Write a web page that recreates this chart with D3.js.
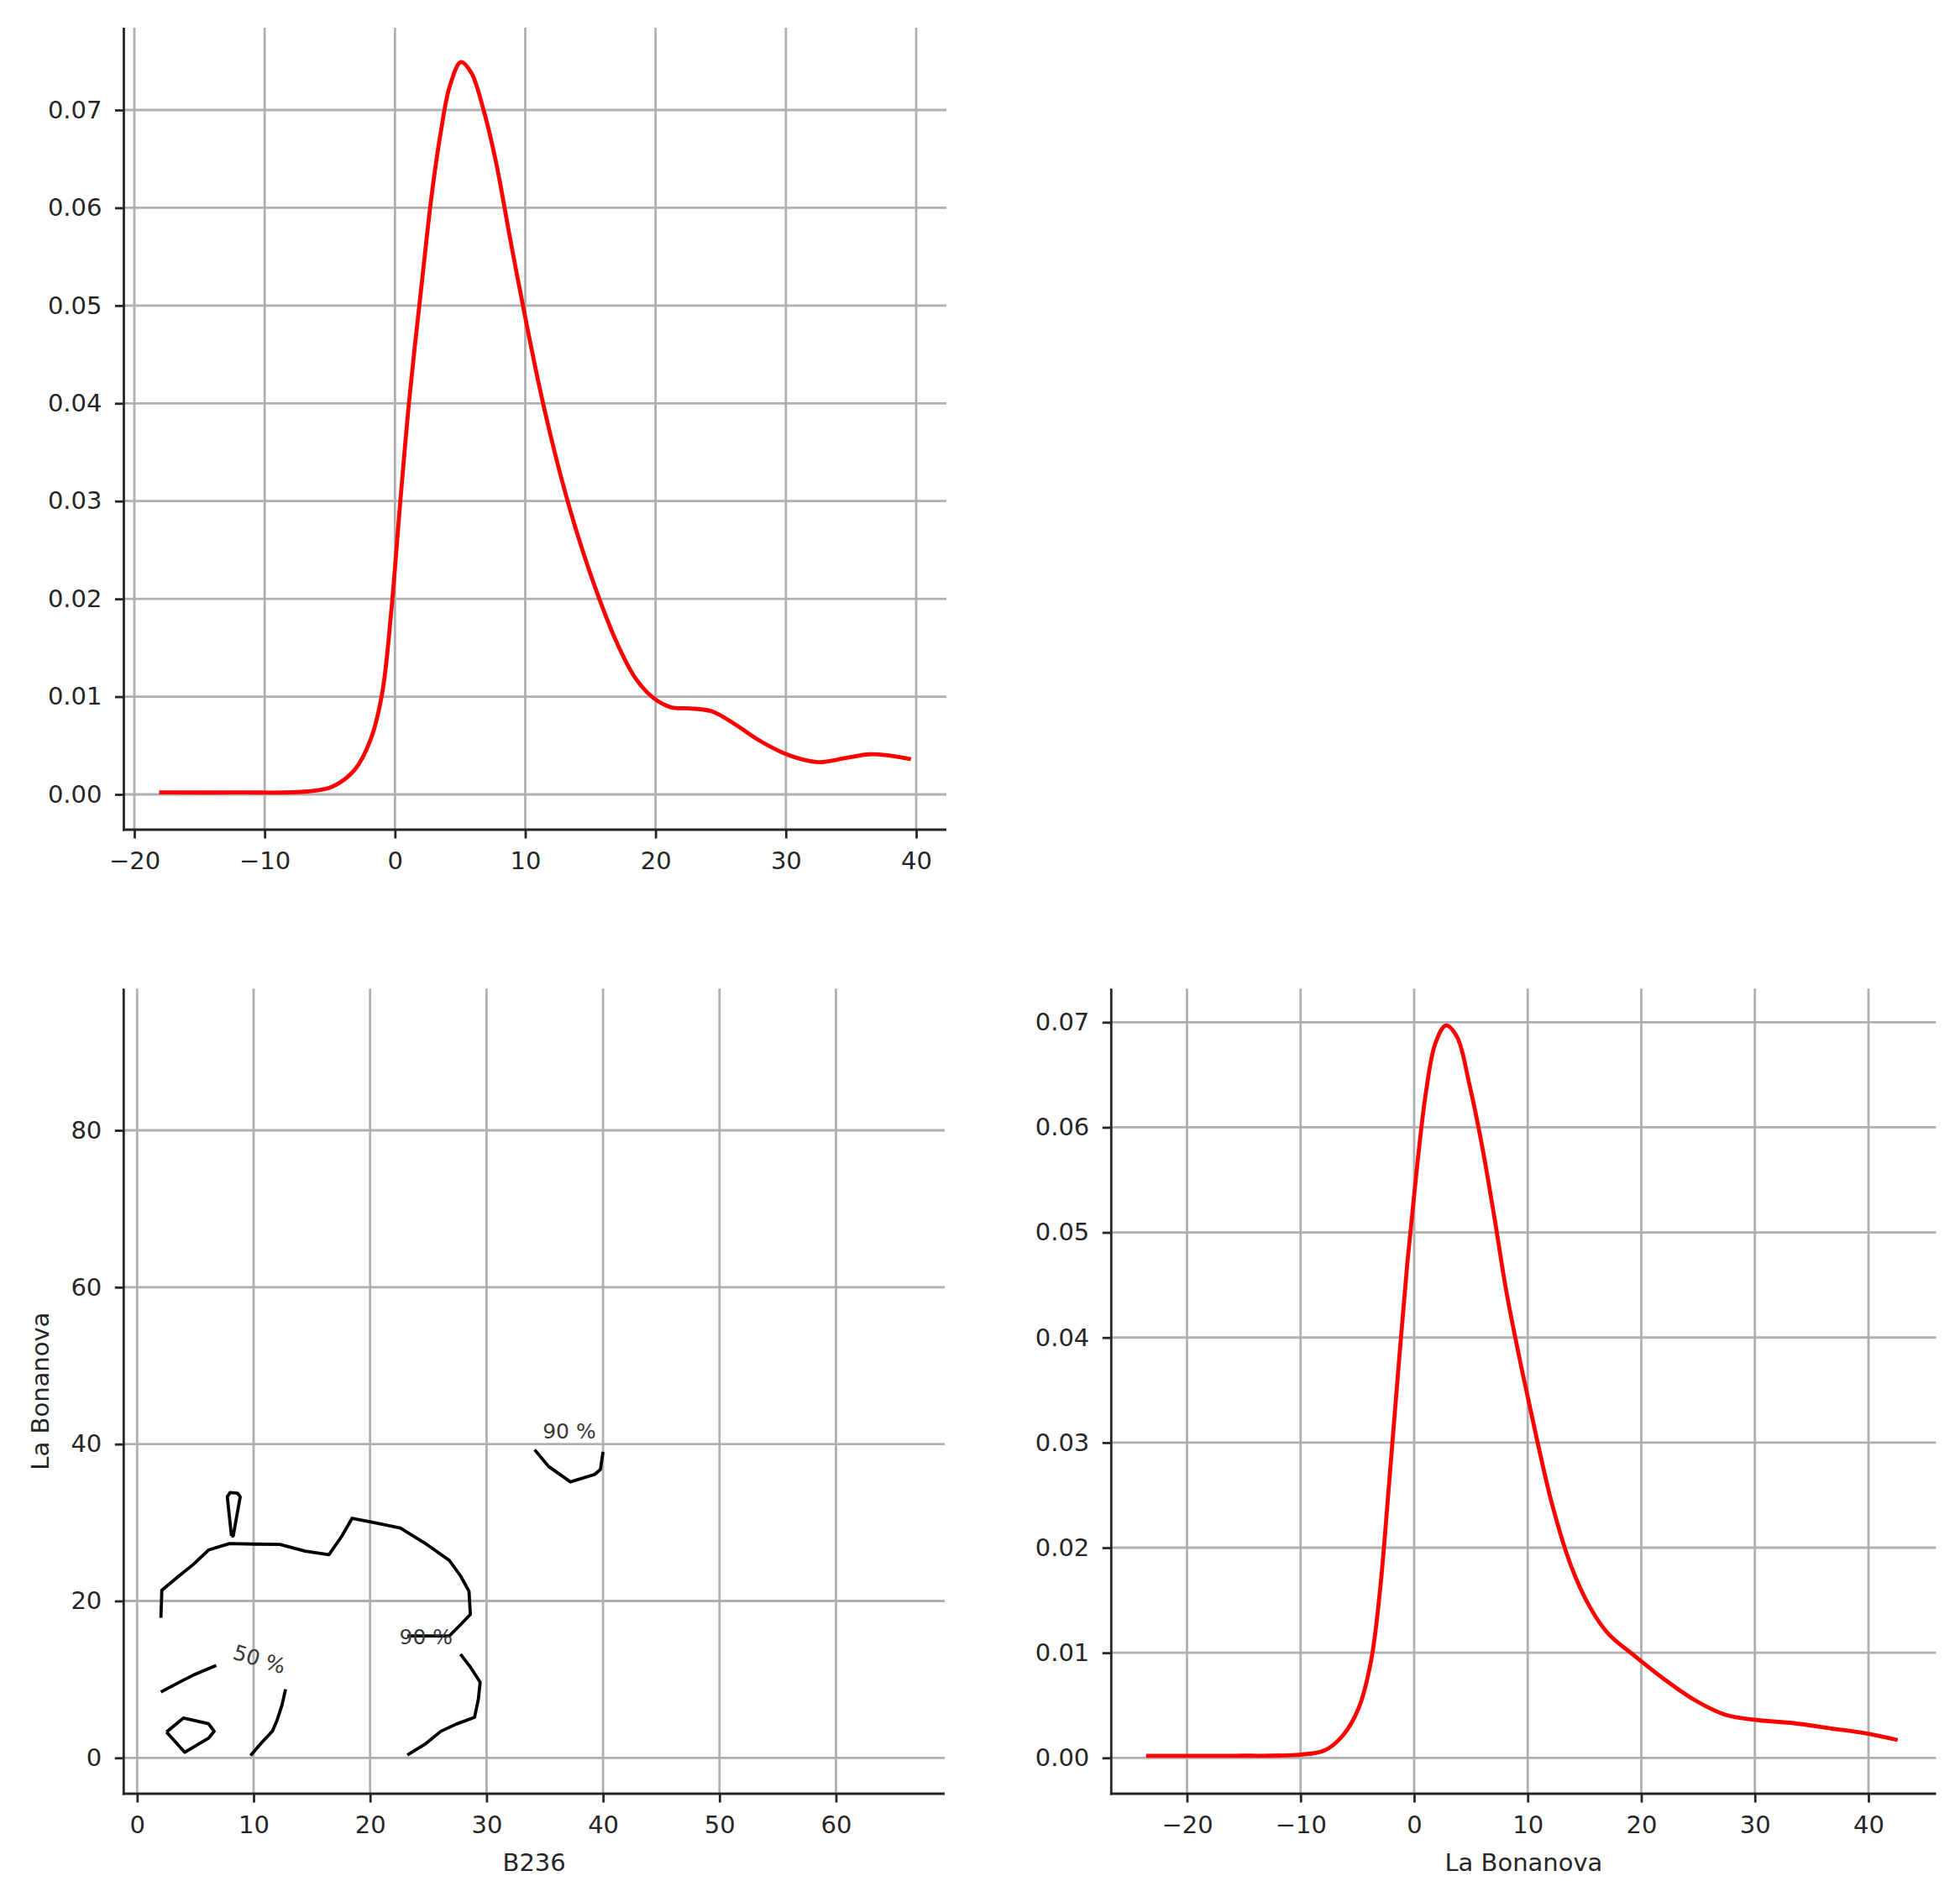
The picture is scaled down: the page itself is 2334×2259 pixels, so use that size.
<!DOCTYPE html>
<html><head><meta charset="utf-8">
<script src="https://cdn.jsdelivr.net/npm/d3@7"></script>
<style>html,body{margin:0;padding:0;background:#fff}</style>
</head><body>
<svg id="chart" width="2334" height="2259"></svg>
<script>
// ---- Data ----
// KDE of B236 (top-left)
const kdeB236X = [-18.1,-12,-6.7,-4.8,-3.1,-1.9,-1.0,-0.3,0.4,1.1,2.1,2.8,3.5,4.2,5.06,5.86,6.8,7.75,8.9,10.1,11.3,12.7,14.1,15.6,17.0,18.4,19.8,21.2,22.6,24.3,25.95,27.85,29.7,31.2,32.6,34.5,36.4,37.8,39.6];
const kdeB236Y = [0.0002,0.0002,0.0003,0.0008,0.0025,0.0055,0.0102,0.0185,0.0298,0.0404,0.0528,0.0611,0.0676,0.0724,0.0749,0.0738,0.0700,0.0647,0.0564,0.0481,0.0404,0.0327,0.0262,0.0203,0.0156,0.0120,0.0099,0.0089,0.0088,0.0085,0.0073,0.0056,0.0043,0.0036,0.0033,0.0037,0.0041,0.0040,0.0036];
// KDE of La Bonanova (bottom-right)
const kdeBonX = [-23.6,-16,-10.1,-7.9,-6.3,-4.9,-3.8,-3.0,-2.2,-1.4,-0.6,0.24,1.06,1.87,2.8,3.78,4.86,5.95,7.04,8.13,9.49,10.85,12.2,13.8,15.5,17.1,19.3,22.0,24.7,27.4,30.2,33.4,36.7,39.96,42.57];
const kdeBonY = [0.0002,0.0002,0.0003,0.0007,0.0021,0.0047,0.0092,0.0160,0.0262,0.0369,0.0471,0.0561,0.0635,0.0680,0.0697,0.0686,0.0641,0.0584,0.0516,0.0443,0.0369,0.0301,0.0239,0.0183,0.0143,0.0118,0.0098,0.0075,0.0055,0.0041,0.0036,0.0033,0.0028,0.0023,0.0017];

// Contour lines (B236, La Bonanova)
const contour90Main = [[2.04,17.86],[2.12,21.36],[3.61,23.21],[4.81,24.64],[6.13,26.5],[7.93,27.32],[10.10,27.25],[12.26,27.21],[14.42,26.36],[16.47,25.89],[17.55,28.21],[18.46,30.54],[20.07,30.07],[22.6,29.29],[24.76,27.32],[26.8,25.18],[27.76,23.21],[28.49,21.25],[28.61,18.29],[27.64,16.79],[26.8,15.54],[23.2,15.54]];
const contour90Lower = [[27.76,13.21],[28.6,11.6],[29.45,9.64],[29.3,7.5],[28.97,5.18],[27.4,4.3],[26.08,3.39],[24.76,1.79],[23.2,0.36]];
const contour90Upper = [[34.13,39.28],[35.33,37.14],[37.2,35.18],[39.29,36.14],[39.78,36.78],[40.0,39.0]];
const contour90Pin = [[8.10,28.29],[7.74,33.29],[7.98,33.82],[8.61,33.75],[8.85,33.29],[8.25,28.29],[8.10,28.29]];
const contour50Left = [[2.04,8.39],[3.85,9.82],[4.81,10.54],[6.80,11.79]];
const contour50Right = [[12.74,8.75],[12.45,6.79],[12.02,4.82],[11.61,3.39],[10.70,1.96],[9.74,0.29]];
const contour50Loop = [[2.52,3.29],[3.97,5.07],[6.13,4.36],[6.61,3.39],[6.13,2.5],[4.09,0.71],[2.52,3.29]];
const contourLabelText = ["50 %","90 %","90 %"];
const contourLabelPos = [[10.5,12.6],[24.8,15.4],[37.1,41.7]];
const contourLabelAngle = [17,0,0];

// Ticks
const densityTicks = [0,0.01,0.02,0.03,0.04,0.05,0.06,0.07];
const kdeXTicks = [-20,-10,0,10,20,30,40];
const scatterXTicks = [0,10,20,30,40,50,60];
const scatterYTicks = [0,20,40,60,80];
const xLabelB236 = "B236";
const labelBonanova = "La Bonanova";

// ---- Drawing ----
const svg = d3.select("#chart");
svg.append("rect").attr("width",2334).attr("height",2259).attr("fill","#fff");
const FONT = "DejaVu Sans";
const TXT = "#262626";
const GRID = "#b0b0b0";

function panel(box, x, y, xt, yt, yfmt){
  const g = svg.append("g");
  g.append("g").selectAll("line").data(xt).join("line")
    .attr("x1",d=>x(d)).attr("x2",d=>x(d)).attr("y1",box.top).attr("y2",box.bottom)
    .attr("stroke",GRID).attr("stroke-width",2.8);
  g.append("g").selectAll("line").data(yt).join("line")
    .attr("y1",d=>y(d)).attr("y2",d=>y(d)).attr("x1",box.left).attr("x2",box.right)
    .attr("stroke",GRID).attr("stroke-width",2.8);
  const ax = g.append("g").attr("transform",`translate(0,${box.bottom})`)
    .call(d3.axisBottom(x).tickValues(xt).tickSize(10.5).tickPadding(16));
  const ay = g.append("g").attr("transform",`translate(${box.left},0)`)
    .call(d3.axisLeft(y).tickValues(yt).tickFormat(yfmt).tickSize(10.5).tickPadding(15.5));
  [ax,ay].forEach(a=>{
    a.select(".domain").remove();
    a.attr("font-family",FONT).attr("font-size",29);
    a.selectAll(".tick line").attr("stroke",TXT).attr("stroke-width",2.8);
    a.selectAll(".tick text").attr("fill",TXT);
  });
  g.append("line").attr("x1",box.left).attr("x2",box.left).attr("y1",box.top).attr("y2",box.bottom+1.4)
    .attr("stroke",TXT).attr("stroke-width",2.8);
  g.append("line").attr("x1",box.left-1.4).attr("x2",box.right).attr("y1",box.bottom).attr("y2",box.bottom)
    .attr("stroke",TXT).attr("stroke-width",2.8);
  return g;
}

const fmtD = d3.format(".2f");
const fmtI = d3.format("d");
const smooth = d3.curveCatmullRom.alpha(0.5);

// Top-left: KDE B236
const b1 = {left:147.5,right:1127,top:33,bottom:988};
const x1 = d3.scaleLinear().domain([-20,40]).range([160,1091]);
const y1 = d3.scaleLinear().domain([0,0.07]).range([946,131]);
const g1 = panel(b1,x1,y1,kdeXTicks,densityTicks,fmtD);
g1.append("path").datum(d3.zip(kdeB236X,kdeB236Y))
  .attr("d",d3.line().x(d=>x1(d[0])).y(d=>y1(d[1])).curve(smooth))
  .attr("fill","none").attr("stroke","#ff0000").attr("stroke-width",4.8);

// Bottom-left: contours
const b2 = {left:147.3,right:1125,top:1177.3,bottom:2136};
const x2 = d3.scaleLinear().domain([0,60]).range([163.3,995.5]);
const y2 = d3.scaleLinear().domain([0,80]).range([2093.3,1346]);
const g2 = panel(b2,x2,y2,scatterXTicks,scatterYTicks,fmtI);
const cl = d3.line().x(d=>x2(d[0])).y(d=>y2(d[1]));
[contour90Main,contour90Lower,contour90Upper,contour90Pin,contour50Left,contour50Right,contour50Loop].forEach(c=>{
  g2.append("path").datum(c).attr("d",cl).attr("fill","none")
    .attr("stroke","#000").attr("stroke-width",3.8).attr("stroke-linejoin","round");
});
contourLabelText.forEach((t,i)=>{
  const px = x2(contourLabelPos[i][0]), py = y2(contourLabelPos[i][1]);
  g2.append("text").text(t)
    .attr("transform",`translate(${px},${py}) rotate(${contourLabelAngle[i]})`)
    .attr("text-anchor","middle").attr("dy","0.36em")
    .attr("font-family",FONT).attr("font-size",25).attr("fill","#3a3a3a");
});
g2.append("text").text(xLabelB236).attr("x",(b2.left+b2.right)/2).attr("y",b2.bottom+92)
  .attr("text-anchor","middle").attr("font-family",FONT).attr("font-size",29).attr("fill",TXT);
g2.append("text").text(labelBonanova)
  .attr("transform",`translate(58,${(b2.top+b2.bottom)/2}) rotate(-90)`)
  .attr("text-anchor","middle").attr("font-family",FONT).attr("font-size",29).attr("fill",TXT);

// Bottom-right: KDE La Bonanova
const b3 = {left:1323.3,right:2305.5,top:1177.3,bottom:2136};
const x3 = d3.scaleLinear().domain([-20,40]).range([1413.5,2225]);
const y3 = d3.scaleLinear().domain([0,0.07]).range([2093.3,1217.3]);
const g3 = panel(b3,x3,y3,kdeXTicks,densityTicks,fmtD);
g3.append("path").datum(d3.zip(kdeBonX,kdeBonY))
  .attr("d",d3.line().x(d=>x3(d[0])).y(d=>y3(d[1])).curve(smooth))
  .attr("fill","none").attr("stroke","#ff0000").attr("stroke-width",4.8);
g3.append("text").text(labelBonanova).attr("x",(b3.left+b3.right)/2).attr("y",b3.bottom+92)
  .attr("text-anchor","middle").attr("font-family",FONT).attr("font-size",29).attr("fill",TXT);
</script>
</body></html>
